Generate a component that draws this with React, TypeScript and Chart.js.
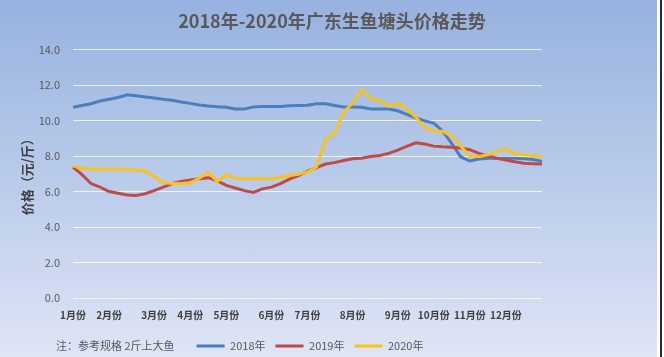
import React, { useEffect, useRef } from 'react';
import { Chart, registerables } from 'chart.js';

Chart.register(...registerables);

const chartTitle = '2018年-2020年广东生鱼塘头价格走势';
const yAxisTitle = '价格（元/斤）';
const noteText = '注：参考规格 2斤上大鱼';
const seriesNames = ['2018年', '2019年', '2020年'];
const monthLabels = ['1月份', '2月份', '3月份', '4月份', '5月份', '6月份', '7月份', '8月份', '9月份', '10月份', '11月份', '12月份'];
const monthStartWeeks = [0, 4, 9, 13, 17, 22, 26, 31, 36, 40, 44, 48];
const yMin = 0;
const yMax = 14;
const yStep = 2;

const prices2018 = [
  10.75, 10.85, 10.95, 11.1, 11.2, 11.3, 11.45, 11.4, 11.33, 11.27,
  11.2, 11.15, 11.05, 10.97, 10.88, 10.82, 10.78, 10.75, 10.65, 10.65,
  10.77, 10.8, 10.8, 10.8, 10.83, 10.85, 10.86, 10.95, 10.95, 10.85,
  10.77, 10.77, 10.75, 10.65, 10.65, 10.65, 10.55, 10.35, 10.15, 9.98,
  9.85, 9.4, 8.7, 7.95, 7.72, 7.83, 7.88, 7.88, 7.88, 7.88,
  7.85, 7.8, 7.7,
];
const prices2019 = [
  7.38, 6.95, 6.45, 6.25, 6.0, 5.9, 5.8, 5.78, 5.88, 6.05,
  6.25, 6.45, 6.57, 6.65, 6.72, 6.78, 6.6, 6.35, 6.2, 6.05,
  5.95, 6.15, 6.25, 6.45, 6.7, 6.9, 7.15, 7.35, 7.55, 7.63,
  7.75, 7.85, 7.88, 7.97, 8.03, 8.15, 8.33, 8.55, 8.75, 8.68,
  8.56, 8.52, 8.5, 8.45, 8.36, 8.15, 8.0, 7.88, 7.78, 7.68,
  7.6, 7.57, 7.55,
];
const prices2020 = [
  7.45, 7.3, 7.25, 7.25, 7.25, 7.25, 7.25, 7.22, 7.15, 6.85,
  6.5, 6.45, 6.45, 6.5, 6.75, 7.08, 6.57, 6.95, 6.75, 6.72,
  6.72, 6.72, 6.72, 6.8, 6.9, 6.98, 7.1, 7.38, 8.95, 9.3,
  10.45, 11.0, 11.72, 11.25, 11.15, 10.8, 10.98, 10.65, 10.2, 9.6,
  9.4, 9.4, 9.1, 8.55, 8.0, 7.98, 8.07, 8.25, 8.42, 8.12,
  8.07, 8.03, 7.98,
];

const FONT = '"Noto Sans CJK SC", "Noto Sans", sans-serif';
const LEG_DX = -22;
const LEG_DY = 4.5;

export default function App() {
  const canvasRef = useRef<HTMLCanvasElement | null>(null);

  useEffect(() => {
    const canvas = canvasRef.current;
    if (!canvas) return;
    Chart.defaults.font.family = FONT;

    const labels = prices2018.map((_, i) => {
      const m = monthStartWeeks.indexOf(i);
      return m >= 0 ? monthLabels[m] : '';
    });

    const colors = ['#4A7EBE', '#BE4B48', '#F8C31C'];
    const seriesData = [prices2018, prices2019, prices2020];

    const extras = {
      id: 'extras',
      afterLayout(chart: any) {
        const lg = chart.legend;
        if (lg) {
          lg.left += LEG_DX;
          lg.right += LEG_DX;
          lg.top += LEG_DY;
          lg.bottom += LEG_DY;
        }
      },
      afterDraw(chart: any) {
        const ctx = chart.ctx;
        ctx.save();
        ctx.font = `11px ${FONT}`;
        ctx.fillStyle = '#595959';
        ctx.textAlign = 'left';
        ctx.textBaseline = 'middle';
        ctx.fillText(noteText, 56, 346);
        ctx.restore();
      },
    };

    const chart = new Chart(canvas, {
      type: 'line',
      data: {
        labels,
        datasets: seriesData.map((d, i) => ({
          label: seriesNames[i],
          data: d,
          borderColor: colors[i],
          backgroundColor: colors[i],
          borderWidth: 3,
          pointRadius: 0,
          tension: 0,
          fill: false,
          order: 3 - i,
          yAxisID: 'y',
        })),
      },
      options: {
        responsive: false,
        animation: false,
        layout: { padding: 0 },
        plugins: {
          title: {
            display: true,
            text: chartTitle,
            color: '#595959',
            font: { size: 18, weight: 'bold', family: FONT },
            padding: { top: 10, bottom: 18 },
          },
          legend: {
            display: true,
            position: 'bottom',
            labels: {
              boxWidth: 28,
              boxHeight: 3,
              padding: 10,
              color: '#595959',
              font: { size: 11, family: FONT },
              sort: (a: any, b: any) => a.datasetIndex - b.datasetIndex,
              generateLabels: (c: any) =>
                Chart.defaults.plugins.legend.labels
                  .generateLabels(c)
                  .map((l: any) => ({ ...l, fillStyle: l.strokeStyle, lineWidth: 0 })),
            },
          },
          tooltip: { enabled: false },
        },
        scales: {
          x: {
            type: 'category',
            offset: false,
            grid: { display: false, drawTicks: false },
            border: { display: false },
            ticks: {
              autoSkip: false,
              maxRotation: 0,
              minRotation: 0,
              padding: 11,
              color: '#404040',
              font: { size: 10, weight: 'bold', family: FONT },
            },
            afterFit: (s: any) => {
              s.height = 28;
            },
          },
          y: {
            type: 'linear',
            position: 'left',
            min: yMin,
            max: yMax,
            grid: { color: 'rgba(255,255,255,0.75)', lineWidth: 1, drawTicks: false },
            border: { display: false },
            ticks: {
              stepSize: yStep,
              padding: 13,
              color: '#595959',
              font: { size: 11, family: FONT },
              callback: (v: any) => Number(v).toFixed(1),
            },
            title: {
              display: true,
              text: yAxisTitle,
              color: '#404040',
              font: { size: 13, weight: 'bold', family: FONT },
              padding: { top: 19, bottom: 0 },
            },
            afterFit: (s: any) => {
              s.width = 73;
            },
          },
          yRight: {
            type: 'linear',
            position: 'right',
            display: true,
            grid: { display: false, drawTicks: false },
            border: { display: false },
            ticks: { display: false },
            afterFit: (s: any) => {
              s.width = 122;
            },
          },
        },
      } as any,
      plugins: [extras],
    });

    return () => chart.destroy();
  }, []);

  return (
    <div
      style={{
        position: 'fixed',
        left: 0,
        top: 0,
        width: 664,
        height: 357,
        background: '#ffffff',
        overflow: 'hidden',
      }}
    >
      <div
        style={{
          position: 'absolute',
          left: 0,
          top: 0,
          width: 657,
          height: 357,
          background: 'linear-gradient(to bottom, #97B2E0 0%, #B9CBEA 50%, #DFE5F5 100%)',
        }}
      />
      <div
        style={{
          position: 'absolute',
          left: 660,
          top: 0,
          width: 2,
          height: 357,
          background: '#2a2a2a',
        }}
      />
      <canvas
        ref={canvasRef}
        width={664}
        height={357}
        style={{ position: 'absolute', left: 0, top: 0, display: 'block' }}
      />
    </div>
  );
}
